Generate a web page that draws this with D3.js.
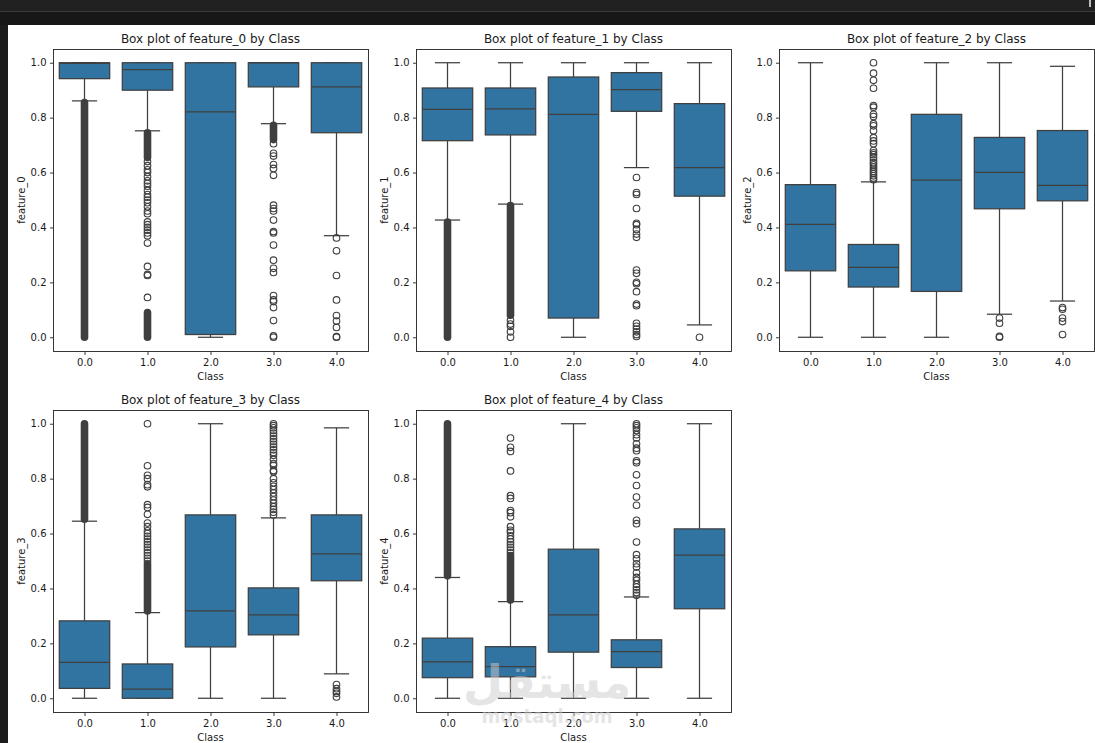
<!DOCTYPE html>
<html>
<head>
<meta charset="utf-8">
<script src="https://cdn.jsdelivr.net/npm/d3@7"></script>
<style>
  html, body { margin: 0; padding: 0; background: #1c1c1c; overflow: hidden; }
  svg { display: block; font-family: "DejaVu Sans", sans-serif; }
</style>
</head>
<body>
<div id="chart"></div>
<script>
const classes = ["0.0", "1.0", "2.0", "3.0", "4.0"];
const yTicks = [0, 0.2, 0.4, 0.6, 0.8, 1.0];

// per class: [whisker low, q1, median, q3, whisker high]
const feature0Boxes = [
  [0.861, 0.942, 0.998, 1.0, 1.0],
  [0.752, 0.900, 0.975, 1.0, 1.0],
  [0.0, 0.010, 0.821, 1.0, 1.0],
  [0.778, 0.912, 1.0, 1.0, 1.0],
  [0.370, 0.745, 0.912, 1.0, 1.0]
];
const feature1Boxes = [
  [0.427, 0.716, 0.830, 0.908, 1.0],
  [0.485, 0.737, 0.832, 0.908, 1.0],
  [0.0, 0.070, 0.812, 0.948, 1.0],
  [0.618, 0.823, 0.902, 0.964, 1.0],
  [0.045, 0.514, 0.618, 0.851, 1.0]
];
const feature2Boxes = [
  [0.0, 0.242, 0.411, 0.556, 1.0],
  [0.0, 0.183, 0.255, 0.338, 0.566],
  [0.0, 0.167, 0.572, 0.812, 1.0],
  [0.084, 0.468, 0.601, 0.728, 1.0],
  [0.132, 0.497, 0.553, 0.753, 0.987]
];
const feature3Boxes = [
  [0.0, 0.036, 0.131, 0.282, 0.645],
  [0.0, 0.0, 0.033, 0.125, 0.312],
  [0.0, 0.187, 0.318, 0.668, 1.0],
  [0.0, 0.231, 0.304, 0.402, 0.657],
  [0.089, 0.428, 0.526, 0.668, 0.985]
];
const feature4Boxes = [
  [0.0, 0.075, 0.133, 0.219, 0.44],
  [0.0, 0.078, 0.115, 0.188, 0.352],
  [0.0, 0.168, 0.304, 0.543, 1.0],
  [0.0, 0.112, 0.170, 0.213, 0.369],
  [0.0, 0.326, 0.521, 0.617, 1.0]
];

// single outlier values per class
const feature0Outliers = [
  [],
  [0.64, 0.625, 0.61, 0.60, 0.585, 0.57, 0.56, 0.55, 0.535, 0.52, 0.51, 0.50, 0.49, 0.475, 0.46, 0.45,
   0.42, 0.41, 0.40, 0.39, 0.38, 0.37, 0.343, 0.258, 0.229, 0.225, 0.145],
  [],
  [0.705, 0.67, 0.66, 0.629, 0.615, 0.59, 0.481, 0.469, 0.46, 0.427, 0.385, 0.38, 0.336, 0.281,
   0.251, 0.236, 0.152, 0.136, 0.13, 0.108, 0.061, 0.005, 0.0],
  [0.362, 0.315, 0.225, 0.136, 0.079, 0.059, 0.036, 0.002, 0.0]
];
const feature1Outliers = [
  [],
  [0.062, 0.048, 0.04, 0.02, 0.0],
  [],
  [0.582, 0.527, 0.52, 0.469, 0.415, 0.41, 0.393, 0.376, 0.364, 0.245, 0.233, 0.2, 0.195, 0.166,
   0.121, 0.115, 0.051, 0.04, 0.03, 0.02, 0.01, 0.003],
  [0.0]
];
const feature2Outliers = [
  [],
  [1.0, 0.962, 0.936, 0.907, 0.844, 0.838, 0.812, 0.804, 0.778, 0.77, 0.752, 0.727, 0.715, 0.705,
   0.68, 0.672, 0.665, 0.655, 0.645, 0.636, 0.628, 0.62, 0.612, 0.604, 0.596, 0.588, 0.58, 0.574],
  [],
  [0.07, 0.051, 0.003, 0.0],
  [0.108, 0.102, 0.07, 0.057, 0.01]
];
const feature3Outliers = [
  [],
  [1.0, 0.847, 0.812, 0.80, 0.778, 0.77, 0.705, 0.695, 0.67, 0.638, 0.625, 0.61, 0.60, 0.59, 0.58,
   0.57, 0.56, 0.55, 0.54, 0.53, 0.52, 0.51, 0.50],
  [],
  [0.668, 0.678, 0.688, 0.698, 0.71, 0.722, 0.735, 0.748, 0.76, 0.772, 0.785, 0.80, 0.825, 0.83,
   0.848, 0.855, 0.87, 0.885, 0.895, 0.905, 0.915, 0.925, 0.935, 0.945, 0.955, 0.965, 0.975, 0.985,
   0.993, 1.0],
  [0.05, 0.035, 0.025, 0.018, 0.005]
];
const feature4Outliers = [
  [],
  [0.948, 0.914, 0.899, 0.828, 0.738, 0.728, 0.684, 0.676, 0.661, 0.625, 0.612, 0.605, 0.592, 0.58,
   0.57, 0.56, 0.55, 0.54, 0.53],
  [],
  [0.375, 0.385, 0.395, 0.405, 0.415, 0.43, 0.44, 0.457, 0.478, 0.49, 0.508, 0.523, 0.569, 0.636,
   0.648, 0.703, 0.733, 0.775, 0.814, 0.858, 0.865, 0.902, 0.911, 0.927, 0.948, 0.96, 0.975, 0.985,
   0.993, 1.0],
  []
];

// ranges where outliers overlap into a solid column: [class index, low, high]
const feature0Dense = [[0, 0.0, 0.855], [1, 0.655, 0.745], [1, 0.0, 0.09], [3, 0.72, 0.772]];
const feature1Dense = [[0, 0.0, 0.42], [1, 0.08, 0.48]];
const feature2Dense = [];
const feature3Dense = [[0, 0.652, 1.0], [1, 0.318, 0.49]];
const feature4Dense = [[0, 0.446, 1.0], [1, 0.358, 0.52]];

const W = 1095, H = 743;
const pw = 315, ph = 302;
const boxColor = '#3274a1', lineColor = '#3f3f3f';

const svg = d3.select('#chart').append('svg')
    .attr('width', W)
    .attr('height', H);

// dark editor chrome around the figure
svg.append('rect').attr('width', W).attr('height', H).attr('fill', '#1c1c1c');
svg.append('rect').attr('width', W).attr('height', 11).attr('fill', '#212121');
svg.append('rect').attr('y', 11).attr('width', W).attr('height', 1).attr('fill', '#3a3a3a');
svg.append('rect').attr('y', 12).attr('width', W).attr('height', 13).attr('fill', '#171717');
svg.append('rect').attr('x', 1089).attr('y', 0).attr('width', 2).attr('height', 7).attr('fill', '#bbb');
svg.append('rect').attr('x', 8).attr('y', 25).attr('width', W - 8).attr('height', H - 25).attr('fill', '#fff');

const panels = [
  { name: 'feature_0', boxes: feature0Boxes, out: feature0Outliers, dense: feature0Dense, x: 53, y: 49 },
  { name: 'feature_1', boxes: feature1Boxes, out: feature1Outliers, dense: feature1Dense, x: 416, y: 49 },
  { name: 'feature_2', boxes: feature2Boxes, out: feature2Outliers, dense: feature2Dense, x: 779, y: 49 },
  { name: 'feature_3', boxes: feature3Boxes, out: feature3Outliers, dense: feature3Dense, x: 53, y: 410 },
  { name: 'feature_4', boxes: feature4Boxes, out: feature4Outliers, dense: feature4Dense, x: 416, y: 410 }
];

panels.forEach(p => {
    const g = svg.append('g').attr('transform', `translate(${p.x},${p.y})`);
    const x = d3.scalePoint().domain(classes).range([0, pw]).padding(0.5);
    const y = d3.scaleLinear().domain([-0.05, 1.05]).range([ph, 0]);
    const bw = x.step() * 0.8;
    const cw = bw * 0.5;

    const boxes = p.boxes.map((b, i) => ({ c: classes[i], lo: b[0], q1: b[1], med: b[2], q3: b[3], hi: b[4] }));

    // whiskers
    g.selectAll('line.wlo').data(boxes).enter().append('line')
        .attr('x1', d => x(d.c)).attr('x2', d => x(d.c))
        .attr('y1', d => y(d.lo)).attr('y2', d => y(d.q1))
        .attr('stroke', lineColor).attr('stroke-width', 1.25);
    g.selectAll('line.whi').data(boxes).enter().append('line')
        .attr('x1', d => x(d.c)).attr('x2', d => x(d.c))
        .attr('y1', d => y(d.q3)).attr('y2', d => y(d.hi))
        .attr('stroke', lineColor).attr('stroke-width', 1.25);

    // caps
    ['lo', 'hi'].forEach(k => {
        g.selectAll('line.cap' + k).data(boxes).enter().append('line')
            .attr('x1', d => x(d.c) - cw / 2).attr('x2', d => x(d.c) + cw / 2)
            .attr('y1', d => y(d[k])).attr('y2', d => y(d[k]))
            .attr('stroke', lineColor).attr('stroke-width', 1.25);
    });

    // boxes
    g.selectAll('rect.box').data(boxes).enter().append('rect')
        .attr('x', d => x(d.c) - bw / 2)
        .attr('y', d => y(d.q3))
        .attr('width', bw)
        .attr('height', d => Math.max(0.5, y(d.q1) - y(d.q3)))
        .attr('fill', boxColor)
        .attr('stroke', lineColor).attr('stroke-width', 1.25);

    // medians
    g.selectAll('line.med').data(boxes).enter().append('line')
        .attr('x1', d => x(d.c) - bw / 2).attr('x2', d => x(d.c) + bw / 2)
        .attr('y1', d => y(d.med)).attr('y2', d => y(d.med))
        .attr('stroke', lineColor).attr('stroke-width', 1.25);

    // dense outlier columns
    g.selectAll('line.dense').data(p.dense).enter().append('line')
        .attr('x1', d => x(classes[d[0]])).attr('x2', d => x(classes[d[0]]))
        .attr('y1', d => y(d[1])).attr('y2', d => y(d[2]))
        .attr('stroke', lineColor).attr('stroke-width', 7.6).attr('stroke-linecap', 'round');

    // single outliers
    const pts = [];
    p.out.forEach((vals, i) => vals.forEach(v => pts.push({ c: classes[i], v: v })));
    g.selectAll('circle.out').data(pts).enter().append('circle')
        .attr('cx', d => x(d.c)).attr('cy', d => y(d.v))
        .attr('r', 3.3)
        .attr('fill', 'none')
        .attr('stroke', lineColor).attr('stroke-width', 1.1);

    // frame
    g.append('rect')
        .attr('x', 0.5).attr('y', 0.5).attr('width', pw).attr('height', ph)
        .attr('fill', 'none').attr('stroke', '#222').attr('stroke-width', 0.9);

    const xa = g.append('g').attr('transform', `translate(0,${ph + 0.5})`)
        .call(d3.axisBottom(x).tickSize(3.5).tickPadding(3.5));
    const ya = g.append('g').attr('transform', 'translate(0.5,0)')
        .call(d3.axisLeft(y).tickValues(yTicks).tickFormat(d3.format('.1f')).tickSize(3.5).tickPadding(3.5));
    [xa, ya].forEach(a => {
        a.select('.domain').remove();
        a.selectAll('line').attr('stroke', '#222').attr('stroke-width', 0.9);
        a.selectAll('text').attr('font-size', 10).attr('fill', '#1a1a1a')
            .attr('font-family', '"DejaVu Sans", sans-serif');
    });

    g.append('text')
        .attr('x', pw / 2).attr('y', -6.5)
        .attr('text-anchor', 'middle')
        .attr('font-size', 12).attr('fill', '#1a1a1a')
        .text(`Box plot of ${p.name} by Class`);

    g.append('text')
        .attr('x', pw / 2).attr('y', ph + 29)
        .attr('text-anchor', 'middle')
        .attr('font-size', 10).attr('fill', '#1a1a1a')
        .text('Class');

    g.append('text')
        .attr('transform', `translate(-28,${ph / 2}) rotate(-90)`)
        .attr('text-anchor', 'middle')
        .attr('font-size', 10).attr('fill', '#1a1a1a')
        .text(p.name);
});

// watermark
svg.append('text')
    .attr('x', 547).attr('y', 698)
    .attr('text-anchor', 'middle')
    .attr('font-size', 46).attr('font-weight', 'bold')
    .attr('fill', '#cccccc').attr('opacity', 0.5)
    .text('مستقل');
svg.append('text')
    .attr('x', 547).attr('y', 723)
    .attr('text-anchor', 'middle')
    .attr('font-size', 20).attr('font-weight', 'bold')
    .attr('textLength', 131).attr('lengthAdjust', 'spacingAndGlyphs')
    .attr('fill', '#cccccc').attr('opacity', 0.5)
    .text('mostaql.com');
</script>
</body>
</html>
